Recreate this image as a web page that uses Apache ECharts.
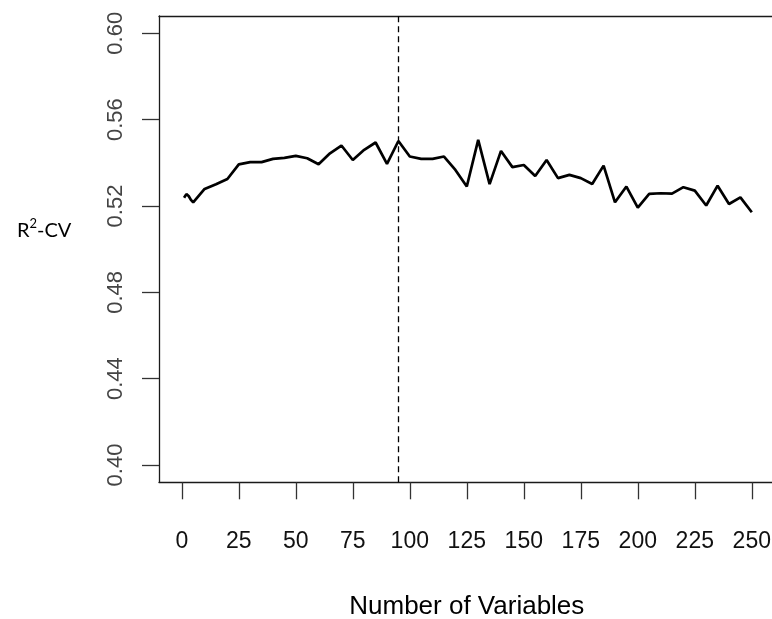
<!DOCTYPE html>
<html>
<head>
<meta charset="utf-8">
<script src="https://cdn.jsdelivr.net/npm/echarts@6/dist/echarts.min.js"></script>
<style>
  html, body { margin: 0; padding: 0; background: #fff; }
  #chart { width: 772px; height: 619px; }
</style>
</head>
<body>
<div id="chart"></div>
<script>
// Number of variables kept at each step of the selection
const nVars = [1, 2, 3, 4, 5, 10, 15, 20, 25, 30, 35, 40, 45, 50, 55, 60, 65, 70, 75, 80,
  85, 90, 95, 100, 105, 110, 115, 120, 125, 130, 135, 140, 145, 150, 155, 160, 165, 170,
  175, 180, 185, 190, 195, 200, 205, 210, 215, 220, 225, 230, 235, 240, 245, 250];

// Cross-validated R^2 for each subset size
const r2cv = [0.5238, 0.5255, 0.5246, 0.5228, 0.5217, 0.5279, 0.5301, 0.5325, 0.5393, 0.5403,
  0.5403, 0.5418, 0.5423, 0.5432, 0.5421, 0.5393, 0.5444, 0.5480, 0.5413, 0.5460,
  0.5494, 0.5395, 0.5501, 0.5429, 0.5418, 0.5418, 0.5429, 0.5367, 0.5290, 0.5506,
  0.5301, 0.5455, 0.5380, 0.5390, 0.5339, 0.5413, 0.5329, 0.5344, 0.5329, 0.5302,
  0.5387, 0.5217, 0.5290, 0.5192, 0.5256, 0.5259, 0.5257, 0.5287, 0.5271, 0.5202,
  0.5294, 0.5209, 0.5240, 0.5171];

// Chosen subset size (dashed reference line)
const bestSize = [95];

// Axis tick positions
const xTicks = [0, 25, 50, 75, 100, 125, 150, 175, 200, 225, 250];
const yTicks = [0.40, 0.44, 0.48, 0.52, 0.56, 0.60];

const chart = echarts.init(document.getElementById('chart'), null, { renderer: 'canvas' });

const labelFont = '"Liberation Sans", Arial, sans-serif';
const boxColor = '#1a1a1a';
const xMin = -10, xMax = 260;

chart.setOption({
  animation: false,
  backgroundColor: '#ffffff',
  title: {
    text: '{r|R}{s|2}{r|-CV}',
    left: 12,
    top: 212,
    textStyle: {
      fontWeight: 'normal',
      rich: {
        r: { fontFamily: 'Lato, "Open Sans", sans-serif', fontWeight: 'normal', fontSize: 20, color: '#000', verticalAlign: 'bottom', lineHeight: 24 },
        s: { fontFamily: 'Lato, "Open Sans", sans-serif', fontWeight: 'normal', fontSize: 13, color: '#000', verticalAlign: 'top', lineHeight: 24, padding: [0, 0, 10, 0] }
      }
    }
  },
  grid: {
    left: 159,
    top: 16,
    width: 615.6,
    height: 466.3,
    show: false,
    containLabel: false,
    outerBoundsMode: 'none'
  },
  xAxis: [{
    type: 'value',
    position: 'bottom',
    min: xMin,
    max: xMax,
    name: 'Number of Variables',
    nameLocation: 'middle',
    nameGap: 112,
    nameTextStyle: { fontFamily: labelFont, fontSize: 26, color: '#000' },
    axisLine: { show: true, onZero: false, lineStyle: { color: boxColor, width: 1.3 } },
    axisTick: {
      show: true, inside: false, length: 17,
      customValues: xTicks,
      lineStyle: { color: '#333', width: 1.3 }
    },
    axisLabel: {
      customValues: xTicks,
      margin: 48,
      fontFamily: labelFont,
      fontSize: 23,
      color: '#111'
    },
    splitLine: { show: false }
  }, {
    // top edge of the plot frame
    type: 'value',
    position: 'top',
    min: xMin,
    max: xMax,
    axisLine: { show: true, onZero: false, lineStyle: { color: boxColor, width: 1.3 } },
    axisTick: { show: false },
    axisLabel: { show: false },
    splitLine: { show: false }
  }],
  yAxis: {
    type: 'value',
    min: 0.392,
    max: 0.608,
    axisLine: { show: true, onZero: false, lineStyle: { color: boxColor, width: 1.3 } },
    axisTick: {
      show: true, inside: false, length: 17,
      customValues: yTicks,
      lineStyle: { color: '#333', width: 1.3 }
    },
    axisLabel: {
      customValues: yTicks,
      rotate: 90,
      margin: 32,
      fontFamily: labelFont,
      fontSize: 22,
      color: '#444',
      formatter: v => v.toFixed(2)
    },
    splitLine: { show: false }
  },
  series: [{
    type: 'line',
    xAxisIndex: 0,
    data: nVars.map((n, i) => [n, r2cv[i]]),
    showSymbol: false,
    symbol: 'none',
    lineStyle: { color: '#000', width: 2.7 },
    z: 3,
    markLine: {
      silent: true,
      symbol: ['none', 'none'],
      label: { show: false },
      lineStyle: { color: '#000', type: [6, 4], width: 1.3 },
      data: bestSize.map(v => ({ xAxis: v }))
    }
  }]
});
</script>
</body>
</html>
